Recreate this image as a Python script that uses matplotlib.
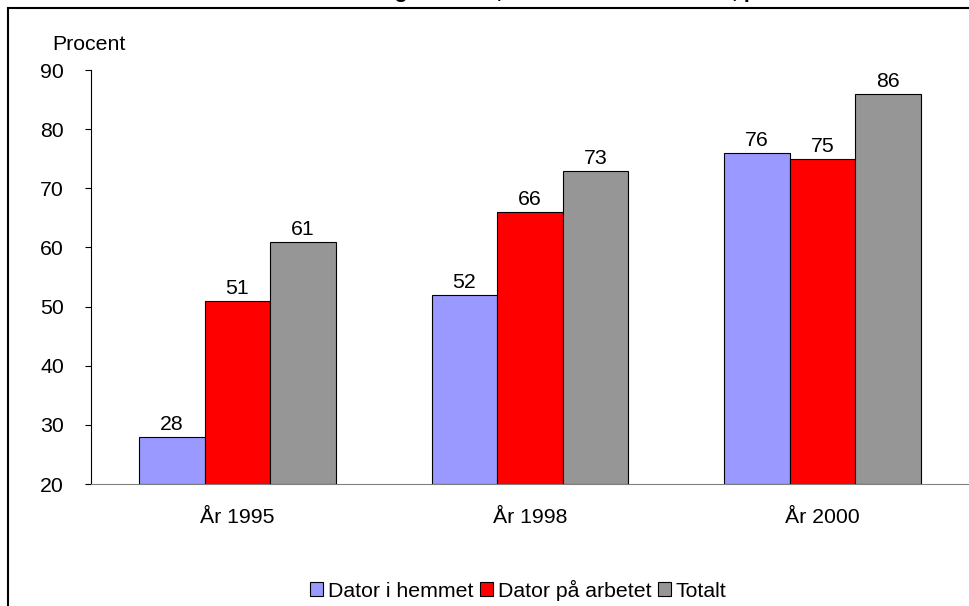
import matplotlib
matplotlib.use("Agg")
import matplotlib.pyplot as plt
from matplotlib.patches import Rectangle
import numpy as np

plt.rcParams['font.family'] = ['Liberation Sans', 'DejaVu Sans']

years = ["År 1995", "År 1998", "År 2000"]
series_names = ["Dator i hemmet", "Dator på arbetet", "Totalt"]
hemmet = [28, 52, 76]
arbetet = [51, 66, 75]
totalt = [61, 73, 86]
colors = ["#9999FF", "#FF0000", "#969696"]

fs = 15.3

fig = plt.figure(figsize=(9.69, 6.06), dpi=100)
ax = fig.add_axes([91 / 969, 1 - 484 / 606, 1 - 91 / 969, (484 - 70) / 606])

x = np.arange(len(years))
width = 0.224
for i, (vals, name, col) in enumerate(zip([hemmet, arbetet, totalt], series_names, colors)):
    pos = x + (i - 1) * width
    ax.bar(pos, np.array(vals) - 20, width, bottom=20, color=col,
           edgecolor="black", linewidth=0.8, label=name)
    for p, v in zip(pos, vals):
        ax.annotate(str(v), (p, v), xytext=(0, 2), textcoords="offset points",
                    ha="center", va="bottom", fontsize=fs)

ax.set_xlim(-0.5, 2.5)
ax.set_ylim(20, 90)
ax.set_yticks(range(20, 91, 10))
ax.set_xticks(x)
ax.set_xticklabels(years)
ax.tick_params(axis="x", length=0, pad=17, labelsize=fs)
ax.tick_params(axis="y", length=4.5, width=0.8, labelsize=fs, pad=15)
ax.spines["top"].set_visible(False)
ax.spines["right"].set_visible(False)
ax.spines["left"].set_linewidth(0.8)
ax.spines["bottom"].set_linewidth(0.8)
ax.spines["bottom"].set_color("#808080")

fig.text(52 / 969, 1 - 45 / 606, "Procent", fontsize=fs, va="center", ha="left")

# title is cut off by the top edge in the original, only descenders show
fig.text(822 / 969, 1 + 1.5 / 606,
         "Datoranvändning i arbetet, alla anställda 16–64 år, procent",
         fontsize=fs, fontweight="bold", ha="right", va="baseline")

# outer chart frame
fig.patches.append(Rectangle((8 / 969, -0.1), 2, 1.1 - 8 / 606, transform=fig.transFigure,
                             fill=False, edgecolor="black", linewidth=1.5))

fig.legend(loc="center", bbox_to_anchor=(518 / 969, 1 - 590 / 606), ncol=3, frameon=False,
           fontsize=fs, handlelength=0.65, handleheight=0.65, handletextpad=0.2,
           columnspacing=0.3, borderpad=0)

fig.savefig("out.png", dpi=100)
